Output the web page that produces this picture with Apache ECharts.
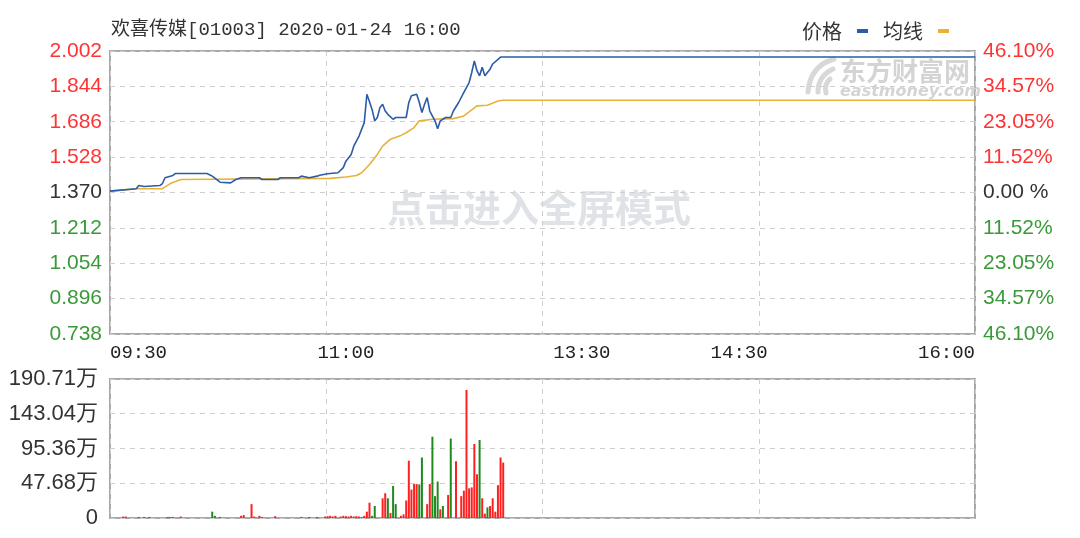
<!DOCTYPE html>
<html><head><meta charset="utf-8">
<script src="https://cdn.jsdelivr.net/npm/echarts@6/dist/echarts.min.js"></script>
<style>html,body{margin:0;padding:0;background:#fff;}#c{width:1080px;height:538px;}</style>
</head><body><div id="c"></div>
<script>
const titleText = '欢喜传媒[01003] 2020-01-24 16:00';
const legendNames = ['价格', '均线'];
const prevClose = 1.370;
const priceTickLabels = ['0.738','0.896','1.054','1.212','1.370','1.528','1.686','1.844','2.002'];
const pctTickLabels = ['46.10%','34.57%','23.05%','11.52%','0.00 %','11.52%','23.05%','34.57%','46.10%'];
const volTickLabels = ['0','47.68万','95.36万','143.04万','190.71万'];
const timeTickLabels = ['09:30','11:00','13:30','14:30','16:00'];

const priceTimes = ['09:30','09:40','09:41','09:43','09:49','09:50','09:51','09:54','09:55','10:07','10:09','10:12','10:16','10:18','10:20','10:27','10:28','10:34','10:35','10:42','10:43','10:46','10:49','10:50','10:53','10:57','10:59','11:00','11:02','11:03','11:05','11:07','11:08','11:09','11:10','11:11','11:12','11:13','11:14','11:15','11:16','11:18','11:19','11:23','11:24','11:25','11:27','11:28','11:29','11:30','11:31','11:32','11:34','11:35','11:36','11:38','11:40','11:41','11:43','11:45','11:47','11:48','11:49','11:50','11:51','11:52','11:53','11:55','11:56','11:59','12:00','16:00'];
const priceValues = [1.376,1.387,1.401,1.397,1.401,1.410,1.436,1.446,1.455,1.455,1.443,1.416,1.413,1.428,1.436,1.436,1.428,1.428,1.436,1.436,1.443,1.436,1.443,1.447,1.454,1.458,1.481,1.510,1.540,1.577,1.622,1.682,1.809,1.775,1.740,1.690,1.705,1.750,1.764,1.734,1.719,1.697,1.705,1.705,1.772,1.802,1.809,1.772,1.727,1.764,1.794,1.734,1.690,1.655,1.690,1.705,1.705,1.734,1.772,1.817,1.861,1.906,1.958,1.914,1.891,1.929,1.891,1.921,1.944,1.975,1.975,1.975];

const avgTimes = ['09:30','09:40','09:50','09:53','09:57','10:54','11:00','11:04','11:06','11:09','11:12','11:14','11:17','11:21','11:23','11:26','11:28','11:33','11:41','11:45','11:50','11:54','11:58','12:00','16:00'];
const avgValues = [1.376,1.387,1.387,1.410,1.428,1.433,1.439,1.446,1.458,1.495,1.540,1.577,1.608,1.625,1.637,1.660,1.690,1.697,1.700,1.712,1.757,1.760,1.779,1.782,1.782];

const volTimes = ['09:35','09:36','09:41','09:43','09:45','09:52','09:53','09:54','09:57','10:09','10:10','10:12','10:20','10:21','10:24','10:25','10:27','10:28','10:33','10:43','10:46','10:49','10:52','10:53','10:54','10:55','10:56','10:58','10:59','11:00','11:01','11:02','11:03','11:04','11:05','11:06','11:07','11:08','11:09','11:10','11:11','11:14','11:15','11:16','11:17','11:18','11:19','11:21','11:22','11:23','11:24','11:25','11:26','11:27','11:28','11:29','11:31','11:32','11:33','11:34','11:35','11:36','11:37','11:39','11:40','11:42','11:44','11:45','11:46','11:47','11:48','11:49','11:50','11:51','11:52','11:53','11:54','11:55','11:56','11:57','11:58','11:59','12:00'];
const volValues = [2,2,1.5,1.5,1.5,1.5,1.5,1.5,2,8.7,3,1.5,3,4,19,2,3,1.5,2.5,1.5,1.5,1.5,2,2.5,3,2,3,2,3,2.5,2,3,2,2.5,2,1.5,3,8.7,21,3,16.5,27,34,27,7,44,19,3,5,24,78.6,39,46.6,46.6,46,83,19,46.6,111.6,30,50,12,16.5,31.6,109,78,30,37.5,175.6,40.7,42,101.5,60,107,27,6,14.6,16.5,27,8.7,45,83,76];
const volUp = [1,1,1,1,1,1,1,1,1,0,0,0,1,1,1,1,1,1,1,0,0,0,1,1,1,1,1,1,1,1,1,1,1,1,1,1,1,1,1,0,0,1,1,0,1,0,0,1,1,1,1,1,1,1,0,0,1,1,0,0,0,1,0,1,0,1,1,1,1,1,1,1,1,0,1,1,0,1,1,1,1,1,1];

function toMin(t) {
  const p = t.split(':');
  const tot = (+p[0]) * 60 + (+p[1]);
  return tot <= 720 ? tot - 570 : tot - 780 + 150;
}
const priceTicks = priceTickLabels.map(parseFloat);
const volTicks = volTickLabels.map(s => parseFloat(s));
const timeTicks = timeTickLabels.map(toMin);
function idxOf(arr, v) {
  v = parseFloat(v);
  let best = 0, bd = Infinity;
  arr.forEach((a, i) => { const d = Math.abs(a - v); if (d < bd) { bd = d; best = i; } });
  return best;
}
const RED = '#ff3333', GREEN = '#3a9a3a', DARK = '#333';
function priceColor(v) {
  v = parseFloat(v);
  if (Math.abs(v - prevClose) < 1e-6) return DARK;
  return v > prevClose ? RED : GREEN;
}
const gridLine = { show: true, lineStyle: { color: '#cfcfcf', type: [5, 5], width: 1 } };
function xAxisCfg(gi, showLabel) {
  return {
    type: 'value', gridIndex: gi, min: 0, max: 330, interval: 82.5,
    axisLine: { show: false }, axisTick: { show: false },
    splitLine: gridLine,
    axisLabel: showLabel ? {
      customValues: timeTicks,
      formatter: v => timeTickLabels[idxOf(timeTicks, v)],
      alignMinLabel: 'left', alignMaxLabel: 'right',
      margin: 9, fontSize: 19, color: '#222', fontFamily: '"Liberation Mono", monospace'
    } : { show: false }
  };
}
const logoStroke = { stroke: '#d8d8d8', lineWidth: 5, lineCap: 'round', fill: null };
const chart = echarts.init(document.getElementById('c'), null, { renderer: 'canvas' });
chart.setOption({
  animation: false,
  backgroundColor: '#fff',
  title: {
    text: titleText, left: 106, top: 15,
    textStyle: { fontSize: 19, fontWeight: 'normal', color: '#333', fontFamily: '"Liberation Mono", "Noto Sans CJK SC"' }
  },
  legend: {
    data: legendNames, right: 126, top: 16, align: 'right', icon: 'rect',
    itemWidth: 11, itemHeight: 4, itemGap: 15,
    textStyle: { fontSize: 20, color: '#333', fontFamily: '"Noto Sans CJK SC"', padding: [0, 10, 0, 0] }
  },
  graphic: [
    { type: 'text', left: 387, top: 189, z: 0, silent: true,
      style: { text: '点击进入全屏模式', font: 'bold 38px "Noto Sans CJK SC"', fill: '#dfe2e6' } },
    { type: 'bezierCurve', z: 0, silent: true,
      shape: { x1: 834, y1: 59, x2: 808, y2: 92, cpx1: 810, cpy1: 66 }, style: logoStroke },
    { type: 'bezierCurve', z: 0, silent: true,
      shape: { x1: 833, y1: 69, x2: 818, y2: 92, cpx1: 818, cpy1: 76 }, style: logoStroke },
    { type: 'bezierCurve', z: 0, silent: true,
      shape: { x1: 830, y1: 79, x2: 826, y2: 93, cpx1: 824, cpy1: 84 }, style: logoStroke },
    { type: 'text', left: 840, top: 58, z: 0, silent: true,
      style: { text: '东方财富网', font: 'bold 26px "Noto Sans CJK SC"', fill: '#d4d4d4' } },
    { type: 'text', left: 840, top: 84, z: 0, silent: true,
      style: { text: 'eastmoney.com', font: 'italic bold 16px "DejaVu Sans"', fill: '#d4d4d4' } }
  ],
  grid: [
    { left: 110, right: 105, top: 51, height: 283, show: true, borderColor: '#a8a8a8', borderWidth: 2, containLabel: false },
    { left: 110, right: 105, top: 379, height: 139, show: true, borderColor: '#a8a8a8', borderWidth: 2, containLabel: false }
  ],
  xAxis: [xAxisCfg(0, true), xAxisCfg(1, false)],
  yAxis: [
    { type: 'value', gridIndex: 0, position: 'left', min: priceTicks[0], max: priceTicks[priceTicks.length - 1],
      axisLine: { show: false }, axisTick: { show: false, customValues: priceTicks },
      splitLine: gridLine,
      axisLabel: { customValues: priceTicks, formatter: v => priceTickLabels[idxOf(priceTicks, v)],
        color: v => priceColor(v), fontSize: 21, margin: 8, fontFamily: '"Liberation Sans", Arial' } },
    { type: 'value', gridIndex: 0, position: 'right', min: priceTicks[0], max: priceTicks[priceTicks.length - 1],
      axisLine: { show: false }, axisTick: { show: false, customValues: priceTicks },
      splitLine: { show: false },
      axisLabel: { customValues: priceTicks, formatter: v => pctTickLabels[idxOf(priceTicks, v)],
        color: v => priceColor(v), fontSize: 21, margin: 8, fontFamily: '"Liberation Sans", Arial' } },
    { type: 'value', gridIndex: 1, min: 0, max: volTicks[volTicks.length - 1],
      axisLine: { show: false }, axisTick: { show: false, customValues: volTicks },
      splitLine: gridLine,
      axisLabel: { customValues: volTicks, formatter: v => volTickLabels[idxOf(volTicks, v)],
        color: '#333', fontSize: 22, margin: 12, fontFamily: '"Liberation Sans", "Noto Sans CJK SC"' } }
  ],
  series: [
    { name: legendNames[0], type: 'line', xAxisIndex: 0, yAxisIndex: 0, z: 4,
      data: priceTimes.map((t, i) => [toMin(t), priceValues[i]]),
      showSymbol: false, symbol: 'none',
      lineStyle: { color: '#2a5ca8', width: 1.6 }, itemStyle: { color: '#2a5ca8' } },
    { name: legendNames[1], type: 'line', xAxisIndex: 0, yAxisIndex: 0, z: 3,
      data: avgTimes.map((t, i) => [toMin(t), avgValues[i]]),
      showSymbol: false, symbol: 'none',
      lineStyle: { color: '#e6b23a', width: 1.6 }, itemStyle: { color: '#e6b23a' } },
    { name: '成交量', type: 'bar', xAxisIndex: 1, yAxisIndex: 2, barWidth: 2, z: 3,
      data: volTimes.map((t, i) => ({ value: [toMin(t), volValues[i]],
        itemStyle: { color: volUp[i] ? '#ff1f1f' : '#1e8a1e' } })) }
  ]
});
</script></body></html>
